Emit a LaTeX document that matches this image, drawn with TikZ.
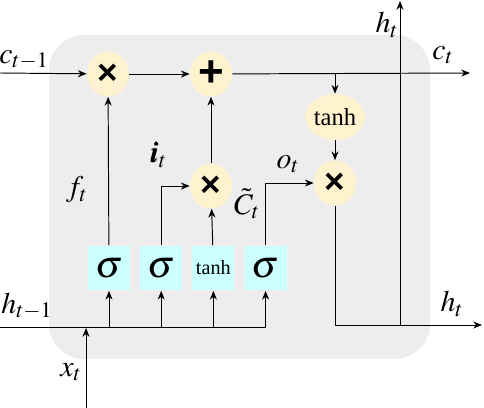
\documentclass[tikz,border=0pt]{standalone}
\usepackage{mathptmx}
\usepackage{fontspec}
\setmainfont{Liberation Serif}
\newfontfamily\opfont{Liberation Sans}
\usepackage{bm}
\usetikzlibrary{arrows.meta,positioning,shapes.geometric}
\definecolor{cellgray}{RGB}{237,237,237}
\definecolor{opyellow}{RGB}{255,242,206}
\definecolor{actcyan}{RGB}{204,255,255}
\tikzset{cell/.style={fill=cellgray,rounded corners=20pt}}
\tikzset{pointop/.style={ellipse,fill=opyellow,minimum width=0.84cm,minimum height=0.9cm,inner sep=0pt,font=\opfont\bfseries\fontsize{20}{20}\selectfont}}
\tikzset{squash/.style={ellipse,fill=opyellow,minimum width=0.96cm,minimum height=0.92cm,inner sep=0pt,font=\fontsize{14}{14}\selectfont}}
\tikzset{layer/.style={rectangle,fill=actcyan,minimum width=0.84cm,minimum height=0.9cm,inner sep=0pt,font=\fontsize{22}{22}\selectfont}}
\tikzset{wire/.style={line width=0.55pt}}
\tikzset{flow/.style={wire,-{Stealth[length=5pt,width=4pt]}}}
\tikzset{lbl/.style={inner sep=1pt,font=\fontsize{17}{18}\selectfont}}

\begin{document}
\begin{tikzpicture}[x=0.02cm,y=-0.02cm]
\useasboundingbox (0,0) rectangle (484,408);
\fill[cell] (49,35) rectangle (430,359);

% pointwise operations
\node (mulf) [pointop] at (108,74) {×};
\node (add) [pointop, font=\opfont\bfseries\fontsize{25}{25}\selectfont] at (211,74) {+};
\node (muli) [pointop] at (211,186) {×};
\node (tnh) [squash] at (335,117) {tanh};
\node (mulo) [pointop] at (335,183) {×};

% gate layers
\node (sf) [layer] at (109,268) {$\sigma$};
\node (si) [layer, right=0.19cm of sf] {$\sigma$};
\node (sc) [layer, right=0.19cm of si, font=\fontsize{11.5}{11.5}\selectfont] {tanh};
\node (so) [layer, right=0.19cm of sc] {$\sigma$};

% free ends
\coordinate (cin) at (0,73);
\coordinate (cout) at (470,73);
\coordinate (ctap) at (335,73);
\coordinate (hin) at (0,327);
\coordinate (hend) at (266,327);
\coordinate (xin) at (86,408);
\coordinate (xend) at (86,328);
\coordinate (hcorner) at (335,325);
\coordinate (hout) at (482,325);
\coordinate (hjoin) at (400,325);
\coordinate (htop) at (400,1);

% cell state
\draw[flow] (cin) -- (mulf);
\draw[flow] (mulf) -- (add);
\draw[flow] (add) -- (cout);
\draw[flow] (ctap) -- (tnh);
\draw[flow] (tnh) -- (mulo);

% hidden state out
\draw[wire] (mulo) -- (hcorner);
\draw[flow] (hcorner) -- (hout);
\draw[flow] (hjoin) -- (htop);

% inputs
\draw[wire] (hin) -- (hend);
\draw[flow] (xin) -- (xend);
\foreach \g in {sf,si,sc,so}
  \draw[flow] (\g |- hend) -- (\g);

% gates to operations
\draw[flow] (sf) -- (mulf);
\draw[flow] (si) |- (muli);
\draw[flow] (sc) -- (muli);
\draw[flow] (so) |- (mulo);
\draw[flow] (muli) -- (add);

% labels
\node[lbl] (lcin) at (24,60) {$c_{t{-}1}$};
\node[lbl] (lf) at (77,190) {$f_t$};
\node[lbl] (li) at (158,155) {$\bm{i}_t$};
\node[lbl] (lc) at (247,204) {$\tilde{C}_t$};
\node[lbl] (lo) at (288,164) {$o_t$};
\node[lbl] (lht) at (387,25) {$h_t$};
\node[lbl] (lct) at (443,55) {$c_t$};
\node[lbl] (lhb) at (452,304) {$h_t$};
\node[lbl] (lhin) at (27,306) {$h_{t{-}1}$};
\node[lbl] (lx) at (71,372) {$x_t$};
\end{tikzpicture}
\end{document}
